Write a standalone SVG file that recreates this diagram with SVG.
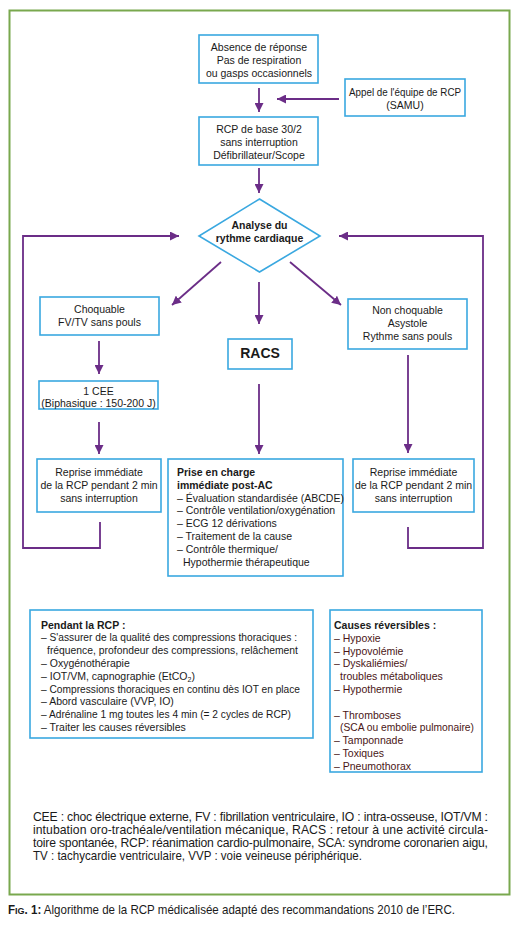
<svg xmlns="http://www.w3.org/2000/svg" width="518" height="936" viewBox="0 0 518 936">
<style>
text{font-family:"Liberation Sans",Arial,sans-serif;font-size:10.5px;fill:#1a1a1a}
.c{text-anchor:middle}
.b{font-weight:bold}
.box{fill:#fff;stroke:#3aa8e0;stroke-width:1.6}
.con{fill:none;stroke:#6b2d87;stroke-width:1.8}
.red{fill:#4a1616}
.foot{font-size:12.2px}
</style>
<defs>
<marker id="ah" viewBox="0 0 10 10" refX="10" refY="5" markerWidth="9" markerHeight="9" markerUnits="userSpaceOnUse" orient="auto">
<path d="M0,0 L10,5 L0,10 z" fill="#6b2d87"/>
</marker>
</defs>
<rect width="518" height="936" fill="#fff"/>
<rect id="frame" x="9.5" y="10.5" width="500" height="884" fill="none" stroke="#79a84e" stroke-width="2"/>

<g id="connectors">
<path class="con" d="M259,88 V112" marker-end="url(#ah)"/>
<path class="con" d="M339,99 H277" marker-end="url(#ah)"/>
<path class="con" d="M259,168 V193" marker-end="url(#ah)"/>
<path class="con" d="M100,522 V548 H23 V236 H179" marker-end="url(#ah)"/>
<path class="con" d="M408,527 V548 H483 V236 H339" marker-end="url(#ah)"/>
<path class="con" d="M221,262 L172,305" marker-end="url(#ah)"/>
<path class="con" d="M290,262 L341,305" marker-end="url(#ah)"/>
<path class="con" d="M259,282 V324" marker-end="url(#ah)"/>
<path class="con" d="M99,341 V374" marker-end="url(#ah)"/>
<path class="con" d="M99,422 V454" marker-end="url(#ah)"/>
<path class="con" d="M259,384 V454" marker-end="url(#ah)"/>
<path class="con" d="M408,355 V453" marker-end="url(#ah)"/>
</g>

<g id="absence">
<rect class="box" x="199" y="35" width="119" height="48"/>
<text class="c" x="259" y="51">Absence de réponse</text>
<text class="c" x="259" y="64">Pas de respiration</text>
<text class="c" x="259" y="77">ou gasps occasionnels</text>
</g>
<g id="appel">
<rect class="box" x="345" y="79" width="120" height="37"/>
<text class="c" x="405" y="96" textLength="112" lengthAdjust="spacingAndGlyphs">Appel de l'équipe de RCP</text>
<text class="c" x="405" y="109">(SAMU)</text>
</g>
<g id="rcpbase">
<rect class="box" x="199" y="117" width="119" height="48"/>
<text class="c" x="259" y="133">RCP de base 30/2</text>
<text class="c" x="259" y="146">sans interruption</text>
<text class="c" x="259" y="159">Défibrillateur/Scope</text>
</g>
<g id="analyse">
<path class="box" d="M259.5,199 L320,236 L259.5,272 L199,236 z"/>
<text class="c b" x="259.5" y="229">Analyse du</text>
<text class="c b" x="259.5" y="242">rythme cardiaque</text>
</g>
<g id="choquable">
<rect class="box" x="40" y="297" width="119" height="38"/>
<text class="c" x="99.5" y="313">Choquable</text>
<text class="c" x="99.5" y="326">FV/TV sans pouls</text>
</g>
<g id="racs">
<rect class="box" x="228" y="339" width="64" height="30"/>
<text class="c b" x="260" y="357.5" style="font-size:14px">RACS</text>
</g>
<g id="nonchoquable">
<rect class="box" x="348" y="299" width="119" height="50"/>
<text class="c" x="407.5" y="314">Non choquable</text>
<text class="c" x="407.5" y="327">Asystole</text>
<text class="c" x="407.5" y="340">Rythme sans pouls</text>
</g>
<g id="cee">
<rect class="box" x="39" y="381" width="119" height="28"/>
<text class="c" x="98.5" y="395">1 CEE</text>
<text class="c" x="98.5" y="407">(Biphasique : 150-200 J)</text>
</g>
<g id="reprise-left">
<rect class="box" x="37" y="459" width="124" height="53"/>
<text class="c" x="99" y="476">Reprise immédiate</text>
<text class="c" x="99" y="489">de la RCP pendant 2 min</text>
<text class="c" x="99" y="502">sans interruption</text>
</g>
<g id="prise">
<rect class="box" x="168" y="459" width="175" height="117"/>
<text class="b" x="177" y="476">Prise en charge</text>
<text class="b" x="177" y="489">immédiate post-AC</text>
<text x="177" y="502">– Évaluation standardisée (ABCDE)</text>
<text x="177" y="514">– Contrôle ventilation/oxygénation</text>
<text x="177" y="527">– ECG 12 dérivations</text>
<text x="177" y="540">– Traitement de la cause</text>
<text x="177" y="553">– Contrôle thermique/</text>
<text x="183" y="566">Hypothermie thérapeutique</text>
</g>
<g id="reprise-right">
<rect class="box" x="353" y="459" width="121" height="53"/>
<text class="c" x="413.5" y="476">Reprise immédiate</text>
<text class="c" x="413.5" y="489">de la RCP pendant 2 min</text>
<text class="c" x="413.5" y="502">sans interruption</text>
</g>
<g id="pendant">
<rect class="box" x="30" y="610" width="283" height="128"/>
<text class="b" x="41" y="629">Pendant la RCP :</text>
<text x="41" y="641" textLength="256" lengthAdjust="spacingAndGlyphs">– S'assurer de la qualité des compressions thoraciques :</text>
<text x="47" y="654" textLength="251" lengthAdjust="spacingAndGlyphs">fréquence, profondeur des compressions, relâchement</text>
<text x="41" y="667">– Oxygénothérapie</text>
<text x="41" y="680">– IOT/VM, capnographie (EtCO<tspan dy="2" style="font-size:7px">2</tspan><tspan dy="-2">)</tspan></text>
<text x="41" y="693" textLength="259" lengthAdjust="spacingAndGlyphs">– Compressions thoraciques en continu dès IOT en place</text>
<text x="41" y="705">– Abord vasculaire (VVP, IO)</text>
<text x="41" y="718" textLength="250" lengthAdjust="spacingAndGlyphs">– Adrénaline 1 mg toutes les 4 min (= 2 cycles de RCP)</text>
<text x="41" y="731">– Traiter les causes réversibles</text>
</g>
<g id="causes">
<rect class="box" x="330" y="610" width="152" height="162"/>
<text class="b" x="334" y="629">Causes réversibles :</text>
<text class="red" x="334" y="642">– Hypoxie</text>
<text class="red" x="334" y="655">– Hypovolémie</text>
<text class="red" x="334" y="667">– Dyskaliémies/</text>
<text class="red" x="340" y="680">troubles métaboliques</text>
<text class="red" x="334" y="693">– Hypothermie</text>
<text class="red" x="334" y="719">– Thromboses</text>
<text class="red" x="340" y="731" textLength="134" lengthAdjust="spacingAndGlyphs">(SCA ou embolie pulmonaire)</text>
<text class="red" x="334" y="744">– Tamponnade</text>
<text class="red" x="334" y="757">– Toxiques</text>
<text class="red" x="334" y="770">– Pneumothorax</text>
</g>
<g id="legend">
<text class="foot" x="33" y="821" textLength="455" lengthAdjust="spacing">CEE : choc électrique externe, FV : fibrillation ventriculaire, IO : intra-osseuse, IOT/VM :</text>
<text class="foot" x="33" y="834" textLength="455" lengthAdjust="spacing">intubation oro-trachéale/ventilation mécanique, RACS  : retour à une activité circula-</text>
<text class="foot" x="33" y="847" textLength="455" lengthAdjust="spacing">toire spontanée, RCP: réanimation cardio-pulmonaire, SCA: syndrome coronarien aigu,</text>
<text class="foot" x="33" y="860" textLength="329" lengthAdjust="spacingAndGlyphs">TV : tachycardie ventriculaire, VVP : voie veineuse périphérique.</text>
</g>
<text id="caption" class="foot" x="8" y="914" textLength="447" lengthAdjust="spacingAndGlyphs"><tspan class="b">F<tspan style="font-size:9.5px">IG</tspan>. 1:</tspan> Algorithme de la RCP médicalisée adapté des recommandations 2010 de l’ERC.</text>
</svg>
